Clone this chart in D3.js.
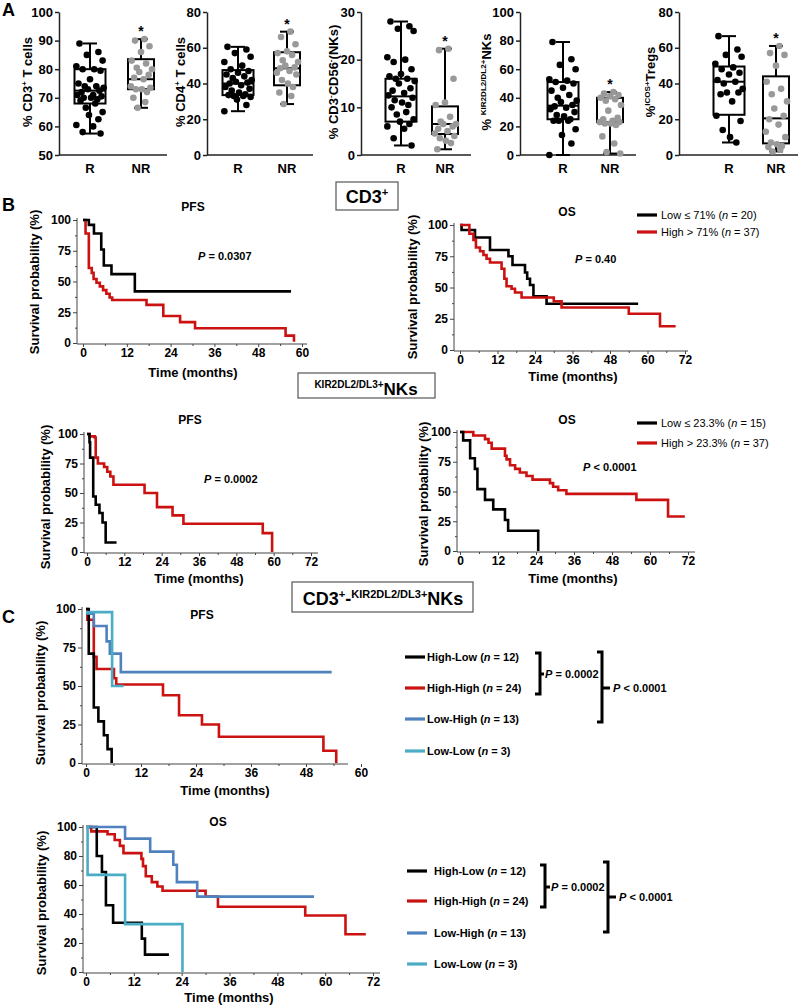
<!DOCTYPE html>
<html><head><meta charset="utf-8">
<script src="https://cdn.jsdelivr.net/npm/d3@7"></script>
<style>
body{margin:0;background:#fff}
svg{display:block}
text{font-family:"Liberation Sans",Arial,Helvetica,sans-serif;}
</style>
</head><body>
<svg id="c" width="798" height="1007"></svg>
<script>
// ---------------- DATA ----------------
const groups = ["R", "NR"];
// Panel A: individual values and box stats [whiskerLow, Q1, median, Q3, whiskerHigh]
const cd3R = [89,86,85,83,81,80,80,79.5,76.5,75,74,74,73.5,73,72.5,72,71,71,70.5,70,70,69.5,69,68,66.5,65,64,62.5,60.5,60,58,57.5];
const cd3NR = [90.5,90,88,86,83,82,80.5,80,79,78,77,76.5,74,73.5,73,73,72,70,68.5,66.5];
const cd3RBox = [57.5,68,72.5,80,89];
const cd3NRBox = [66.5,73,76.5,83.5,90.5];
const cd4R = [60.5,59,57,55,52,50,48,47,46,45,44,43,42,41,40.5,40,39,38,37,36,35,34,33.5,33,33,32.5,31,28,24.5];
const cd4NR = [69,66,62,58,57,56,53,52,50,49,48.5,47,46,45,42,40,38,35,33,28.5];
const cd4RBox = [24.5,33.5,40,47.5,60.5];
const cd4NRBox = [28.5,39,48.5,57.5,69];
const nkR = [28,27,26.5,26,20.5,20,19.5,18,17,16.5,16,16,15.5,15,14,13.5,13,12.5,12,11.5,11,10.5,10,9,8.5,7.5,7,6.5,6,5.5,3.5,2];
const nkNR = [22.3,22,16,11,10.5,8,7,6.5,6.5,6,5.5,5,4.5,4,3.5,3,2.5,1.2];
const nkRBox = [2,7,12.3,16,28];
const nkNRBox = [1.2,4.4,6.5,10.2,22.3];
const kirR = [79,67,63,60,53,52,51,50,47,45,42,40,38,37,35,34,33,32,30,28,27,25,24,24,24,18,14,8,0];
const kirNR = [44,43,42,41,40,39,38,35,31,26,25,24,23,23,22,22,21,13,8,2,1];
const kirRBox = [0,25,34.5,51,79];
const kirNRBox = [1,23,23,40,44];
const icosR = [66.5,59,56,55,51,49,48,46,45,42,41,40,37,35,35,34,30,22,19,14,10,7];
const icosNR = [61,57,56,50,41,37,34,30,26,22,20,17,13,10,7,6,5,4.5,3,2];
const icosRBox = [7,22.5,41,49.5,66.5];
const icosNRBox = [2,6.5,20.5,44,61];
const cd3Ticks = [50,60,70,80,90,100];
const cd4Ticks = [0,20,40,60,80];
const nkTicks = [0,10,20,30];
const kirTicks = [0,20,40,60,80,100];
const icosTicks = [0,20,40,60,80];

// Panel B/C: Kaplan-Meier step points (time in months, survival %)
const b1PfsLowT = [0,1.6,3.0,5.0,5.7,7.8,14.2,57];
const b1PfsLowS = [100,96,89,76,63,56,42,42];
const b1PfsHighT = [0,0.7,1.6,2.4,2.9,3.7,4.6,5.5,6.4,7.3,8.0,17.4,22.0,26.6,30.7,55.5,57.8];
const b1PfsHighS = [100,89,61,57,52,49,46,43,40,37,35,31,22,17,12,6,1];
const b1OsLowT = [0,0.5,4.8,9.6,15.5,16.8,20.8,21.5,22.4,23.5,27.7,57];
const b1OsLowS = [100,96,90,80,75,68,62,57,52,43,37,37];
const b1OsHighT = [0,3.0,4.3,5.1,6.4,7.5,8.5,9.6,13.3,14.2,14.9,16.5,17.6,19.7,30.0,32.5,54.0,64.0,69];
const b1OsHighS = [100,93,88,82,79,76,73,70,65,57,51,49,46,42,39,34,29,19,19];
const b2PfsLowT = [0,0.8,1.0,2.0,2.8,4.0,5.0,6.0,9.5];
const b2PfsLowS = [100,93,80,47,40,33,25,8,8];
const b2PfsHighT = [0,0.8,2.5,2.8,3.5,5.5,6.5,7.5,8.5,18.5,22.5,27.5,31.0,56.5,59.5];
const b2PfsHighS = [100,98,97,80,75,72,68,64,57,50,38,31,24,16,0];
const b2OsLowT = [0,1.0,3.2,4.7,5.5,7.9,10.5,14.2,15.2,24.7];
const b2OsLowS = [100,93,78,69,52,43,35,26,17,0];
const b2OsHighT = [0,4.2,7.9,9.0,10.0,14.2,14.7,15.8,17.4,18.9,21.0,22.9,28.4,29.4,31.0,33.6,55.7,65.7,71];
const b2OsHighS = [100,97,94,91,86,80,77,72,69,66,63,60,57,54,51,48,43,29,29];
const cPfsHLT = [0,0.6,1.7,2.7,3.9,4.7,5.6];
const cPfsHLS = [100,71,36,27,18,9,0];
const cPfsHHT = [0,0.3,1.7,2.3,6.1,6.6,16.8,20.3,25.3,29.0,51.8,54.6];
const cPfsHHS = [100,93,69,61,55,51,44,31,25,17,8,0];
const cPfsLHT = [0,1.7,4.5,5.2,7.6,53.6];
const cPfsLHS = [97,89,79,71,59,59];
const cPfsLLT = [0,5.7,8.2];
const cPfsLLS = [98,50,50];
const cOsHLT = [0,2.7,4.0,5.0,6.8,14.0,14.8,20.8];
const cOsHLS = [100,80,69,46,34,23,12,12];
const cOsHHT = [0,1.3,5.4,7.2,8.5,9.4,13.9,14.3,15.0,16.5,17.9,19.2,30.0,33.1,55.0,65.1,70.2];
const cOsHHS = [100,97,95,91,87,82,78,73,66,62,59,56,52,45,39,26,26];
const cOsLHT = [0,9.8,16.1,21.9,22.8,27.9,57.2];
const cOsLHS = [100,92,83,74,62,52,52];
const cOsLLT = [0,0.4,9.8,24.2];
const cOsLLS = [100,67,33,0];
const kmTicks60 = [0,12,24,36,48,60];
const kmTicks72 = [0,12,24,36,48,60,72];
const survTicks25 = [0,25,50,75,100];
const survTicks20 = [0,20,40,60,80,100];

// ---------------- DRAWING ----------------
const svg = d3.select("#c");
const RED = "#cc1111", BLUE = "#4f81bd", CYAN = "#4bacc6", GRAY = "#999999";

function rich(sel, parts, size, weight) {
  let shift = 0;
  parts.forEach(p => {
    const target = p.sup ? -size * 0.4 : 0;
    const ts = sel.append("tspan")
      .attr("dy", target - shift)
      .style("font-size", (p.size || (p.sup ? size * 0.62 : size)) + "px")
      .style("font-weight", p.w || weight)
      .text(p.t);
    if (p.i) ts.style("font-style", "italic");
    shift = target;
  });
  return sel;
}

function txt(x, y, parts, size, weight, anchor, rotate) {
  const t = svg.append("text").attr("fill", "#000")
    .attr("text-anchor", anchor || "start");
  if (rotate) t.attr("transform", `translate(${x},${y}) rotate(-90)`);
  else t.attr("x", x).attr("y", y);
  rich(t, parts, size, weight);
  return t;
}

// Panel letters
txt(2, 16, [{t:"A"}], 18, "bold");
txt(2, 211, [{t:"B"}], 18, "bold");
txt(2, 623, [{t:"C"}], 18, "bold");

// jitter offsets (layout only)
const jit = [-10,8,-3,12,-13,4,-7,10,0,-11,6,-5,13,-2,9,-8,3,-12,11,-6,1,7,-9,5,-4,12,-1,8,-13,3,-7,10];

const boxPanels = [
  {axX:59, rX:90, nrX:141, dom:[50,100], ticks:cd3Ticks, R:cd3R, NR:cd3NR, rb:cd3RBox, nb:cd3NRBox, lx:27,
   label:[{t:"% CD3"},{t:"+",sup:true},{t:" T cells"}]},
  {axX:207, rX:238, nrX:287, dom:[0,80], ticks:cd4Ticks, R:cd4R, NR:cd4NR, rb:cd4RBox, nb:cd4NRBox, lx:180,
   label:[{t:"% CD4"},{t:"+",sup:true},{t:" T cells"}]},
  {axX:361, rX:401, nrX:445, dom:[0,30], ticks:nkTicks, R:nkR, NR:nkNR, rb:nkRBox, nb:nkNRBox, lx:333,
   label:[{t:"% CD3"},{t:"-",sup:true},{t:"CD56"},{t:"-",sup:true},{t:"(NKs)"}]},
  {axX:520, rX:563, nrX:610, dom:[0,100], ticks:kirTicks, R:kirR, NR:kirNR, rb:kirRBox, nb:kirNRBox, lx:486,
   label:[{t:"% "},{t:"KIR2DL2/DL2+",sup:true},{t:"NKs"}]},
  {axX:679, rX:729, nrX:776, dom:[0,80], ticks:icosTicks, R:icosR, NR:icosNR, rb:icosRBox, nb:icosNRBox, lx:650,
   label:[{t:"%"},{t:"ICOS+",sup:true},{t:"Tregs"}]}
];

boxPanels.forEach(p => {
  const y = d3.scaleLinear().domain(p.dom).range([155, 12]);
  const x = d3.scalePoint().domain(groups).range([p.rX, p.nrX]);
  const g = svg.append("g");
  const ya = g.append("g").attr("transform", `translate(${p.axX},0)`)
    .call(d3.axisLeft(y).tickValues(p.ticks).tickSize(4).tickSizeOuter(0).tickPadding(2));
  ya.selectAll("path,line").attr("stroke", "#222").attr("stroke-width", 1.5);
  ya.selectAll("text").style("font-size", "13px").style("font-weight", "bold").attr("fill", "#000");
  g.append("line").attr("x1", p.axX).attr("x2", p.nrX + 26).attr("y1", 155).attr("y2", 155)
    .attr("stroke", "#222").attr("stroke-width", 1.5);
  groups.forEach(k => {
    g.append("text").attr("x", x(k)).attr("y", 173).attr("text-anchor", "middle")
      .style("font-size", "13px").style("font-weight", "bold").text(k);
  });
  const drawBox = (cx, st, bw) => {
    g.append("line").attr("x1", cx).attr("x2", cx).attr("y1", y(st[0])).attr("y2", y(st[4]))
      .attr("stroke", "#000").attr("stroke-width", 2);
    [st[0], st[4]].forEach(v => g.append("line").attr("x1", cx - 7).attr("x2", cx + 7)
      .attr("y1", y(v)).attr("y2", y(v)).attr("stroke", "#000").attr("stroke-width", 2));
    g.append("rect").attr("x", cx - bw / 2).attr("width", bw).attr("y", y(st[3]))
      .attr("height", y(st[1]) - y(st[3])).attr("fill", "#fff").attr("stroke", "#000").attr("stroke-width", 2);
    g.append("line").attr("x1", cx - bw / 2).attr("x2", cx + bw / 2).attr("y1", y(st[2])).attr("y2", y(st[2]))
      .attr("stroke", "#000").attr("stroke-width", 2);
  };
  drawBox(x("R"), p.rb, 31);
  drawBox(x("NR"), p.nb, 26);
  g.selectAll(".pr").data(p.R).enter().append("circle")
    .attr("cx", (d, i) => x("R") + jit[i % jit.length] * 1.05).attr("cy", d => y(d)).attr("r", 3.3).attr("fill", "#000");
  g.selectAll(".pn").data(p.NR).enter().append("circle")
    .attr("cx", (d, i) => x("NR") + jit[(i + 5) % jit.length] * 0.85).attr("cy", d => y(d)).attr("r", 3.3).attr("fill", GRAY);
  g.append("text").attr("x", x("NR")).attr("y", y(p.nb[4]) - 3).attr("text-anchor", "middle")
    .style("font-size", "14px").style("font-weight", "bold").text("*");
  txt(p.lx + 5, 82, p.label, 13, "bold", "middle", true);
});

// Section title boxes
function secBox(x, y, w, h) {
  svg.append("rect").attr("x", x).attr("y", y).attr("width", w).attr("height", h)
    .attr("fill", "#fff").attr("stroke", "#555").attr("stroke-width", 1.2);
}
secBox(336, 182, 62, 28);
txt(367, 203, [{t:"CD3"},{t:"+",sup:true}], 18, "bold", "middle");
secBox(298, 373, 137, 25);
txt(366, 395, [{t:"KIR2DL2/DL3+", sup:true, size:10}, {t:"NKs", size:17}], 17, "bold", "middle");
secBox(292, 582, 181, 30);
txt(383, 605, [{t:"CD3"},{t:"+",sup:true},{t:"-"},{t:"KIR2DL2/DL3+",sup:true,size:11},{t:"NKs"}], 18, "bold", "middle");

// KM plots
function km(c) {
  const g = svg.append("g");
  const x = d3.scaleLinear().domain([0, c.tMax]).range([c.x0, c.x1]);
  const y = d3.scaleLinear().domain([0, 100]).range([c.yB, c.yT]);
  const xAxY = c.yB + 1;
  const step = c.yTicks[1] - c.yTicks[0];
  const yMinor = c.yTicks.slice(1).map(v => v - step / 2);
  const xMinor = c.xTicks.slice(1).map(v => v - 6);
  const ya = g.append("g").attr("transform", `translate(${c.axX},0)`)
    .call(d3.axisLeft(y).tickValues(c.yTicks).tickSize(4).tickPadding(2).tickSizeOuter(0));
  ya.select(".domain").remove();
  const ym = g.append("g").attr("transform", `translate(${c.axX},0)`)
    .call(d3.axisLeft(y).tickValues(yMinor).tickSize(2).tickFormat(""));
  ym.select(".domain").remove();
  const xa = g.append("g").attr("transform", `translate(0,${xAxY})`)
    .call(d3.axisBottom(x).tickValues(c.xTicks).tickSize(3).tickPadding(1).tickSizeOuter(0));
  xa.select(".domain").remove();
  const xm = g.append("g").attr("transform", `translate(0,${xAxY})`)
    .call(d3.axisBottom(x).tickValues(xMinor).tickSize(2).tickFormat(""));
  xm.select(".domain").remove();
  g.append("line").attr("x1", c.axX).attr("x2", c.axX).attr("y1", c.yT - 2).attr("y2", xAxY);
  g.append("line").attr("x1", c.axX).attr("x2", c.axEnd).attr("y1", xAxY).attr("y2", xAxY);
  g.selectAll("line").attr("stroke", "#444").attr("stroke-width", 1);
  g.selectAll("text").style("font-size", "12px").style("font-weight", "bold").attr("fill", "#000");
  const line = d3.line().x(d => x(d[0])).y(d => y(d[1])).curve(d3.curveStepAfter);
  c.series.forEach(s => {
    g.append("path").datum(d3.zip(s.t, s.s)).attr("d", line)
      .attr("fill", "none").attr("stroke", s.color).attr("stroke-width", 2.6);
  });
  txt(c.titleX, c.titleY, [{t:c.title}], 12, "bold", "middle");
  txt(c.ylX + 4, c.ylY, [{t:"Survival probability (%)"}], 13, "bold", "middle", true);
  txt(c.xlX, c.xlY, [{t:"Time (months)"}], 13, "bold", "middle");
  if (c.p) txt(c.pX, c.pY, [{t:"P", i:true}, {t:c.p}], 11, "bold");
}

km({axX:77, x0:83, x1:302, tMax:60, xTicks:kmTicks60, axEnd:307, yT:220, yB:343, yTicks:survTicks25,
  title:"PFS", titleX:193, titleY:211, ylX:35, ylY:282, xlX:193, xlY:377, p:" = 0.0307", pX:198, pY:260,
  series:[{t:b1PfsHighT, s:b1PfsHighS, color:RED}, {t:b1PfsLowT, s:b1PfsLowS, color:"#000"}]});
km({axX:454, x0:460, x1:685, tMax:72, xTicks:kmTicks72, axEnd:688, yT:225, yB:350, yTicks:survTicks25,
  title:"OS", titleX:567, titleY:216, ylX:413, ylY:287, xlX:573, xlY:381, p:" = 0.40", pX:575, pY:263,
  series:[{t:b1OsLowT, s:b1OsLowS, color:"#000"}, {t:b1OsHighT, s:b1OsHighS, color:RED}]});
km({axX:84, x0:87, x1:311, tMax:72, xTicks:kmTicks72, axEnd:318, yT:434, yB:552, yTicks:survTicks25,
  title:"PFS", titleX:190, titleY:424, ylX:46, ylY:497, xlX:199, xlY:583, p:" = 0.0002", pX:204, pY:483,
  series:[{t:b2PfsHighT, s:b2PfsHighS, color:RED}, {t:b2PfsLowT, s:b2PfsLowS, color:"#000"}]});
km({axX:457, x0:460, x1:688, tMax:72, xTicks:kmTicks72, axEnd:695, yT:432, yB:551, yTicks:survTicks25,
  title:"OS", titleX:567, titleY:424, ylX:424, ylY:494, xlX:573, xlY:583, p:" < 0.0001", pX:583, pY:471,
  series:[{t:b2OsHighT, s:b2OsHighS, color:RED}, {t:b2OsLowT, s:b2OsLowS, color:"#000"}]});
km({axX:82, x0:86, x1:361, tMax:60, xTicks:kmTicks60, axEnd:348, yT:609, yB:763, yTicks:survTicks25,
  title:"PFS", titleX:202, titleY:619, ylX:41, ylY:693, xlX:225, xlY:795,
  series:[{t:cPfsHHT, s:cPfsHHS, color:RED}, {t:cPfsHLT, s:cPfsHLS, color:"#000"},
          {t:cPfsLHT, s:cPfsLHS, color:BLUE}, {t:cPfsLLT, s:cPfsLLS, color:CYAN}]});
km({axX:83, x0:86, x1:373, tMax:72, xTicks:kmTicks72, axEnd:380, yT:827, yB:972, yTicks:survTicks20,
  title:"OS", titleX:218, titleY:826, ylX:42, ylY:903, xlX:229, xlY:1002,
  series:[{t:cOsHHT, s:cOsHHS, color:RED}, {t:cOsHLT, s:cOsHLS, color:"#000"},
          {t:cOsLHT, s:cOsLHS, color:BLUE}, {t:cOsLLT, s:cOsLLS, color:CYAN}]});

// Legends
function legend(items, lx1, lx2, tx, ys, weight) {
  items.forEach((it, i) => {
    svg.append("line").attr("x1", lx1).attr("x2", lx2).attr("y1", ys[i]).attr("y2", ys[i])
      .attr("stroke", it.color).attr("stroke-width", 3.2);
    txt(tx, ys[i] + 4, it.parts, 11, weight);
  });
}
legend([{color:"#000", parts:[{t:"Low ≤ 71% ("},{t:"n",i:true},{t:" = 20)"}]},
        {color:RED, parts:[{t:"High > 71% ("},{t:"n",i:true},{t:" = 37)"}]}], 637, 657, 661, [215, 232], "normal");
legend([{color:"#000", parts:[{t:"Low ≤ 23.3% ("},{t:"n",i:true},{t:" = 15)"}]},
        {color:RED, parts:[{t:"High > 23.3% ("},{t:"n",i:true},{t:" = 37)"}]}], 637, 657, 661, [423, 443], "normal");
const cLegend = [
  {color:"#000", parts:[{t:"High-Low ("},{t:"n",i:true},{t:" = 12)"}]},
  {color:RED, parts:[{t:"High-High ("},{t:"n",i:true},{t:" = 24)"}]},
  {color:BLUE, parts:[{t:"Low-High ("},{t:"n",i:true},{t:" = 13)"}]},
  {color:CYAN, parts:[{t:"Low-Low ("},{t:"n",i:true},{t:" = 3)"}]}
];
legend(cLegend, 405, 425, 427, [657, 688, 719, 751], "bold");
legend(cLegend, 407, 427, 434, [871, 901, 933, 964], "bold");

// Brackets
function bracket(x, y1, y2, ym, tickR, label, tx) {
  const p = d3.path();
  p.moveTo(x - 5, y1); p.lineTo(x, y1); p.lineTo(x, y2); p.lineTo(x - 5, y2);
  p.moveTo(x, ym); p.lineTo(x + tickR, ym);
  svg.append("path").attr("d", p.toString()).attr("fill", "none").attr("stroke", "#000").attr("stroke-width", 3);
  txt(tx, ym + 4, [{t:"P", i:true}, {t:label}], 11, "bold");
}
bracket(540, 653, 694, 674, 4, " = 0.0002", 545);
bracket(602, 652, 722, 688, 8, " < 0.0001", 613);
bracket(545, 865, 907, 887, 5, " = 0.0002", 551);
bracket(608, 862, 932, 897, 8, " < 0.0001", 619);
</script>
</body></html>
